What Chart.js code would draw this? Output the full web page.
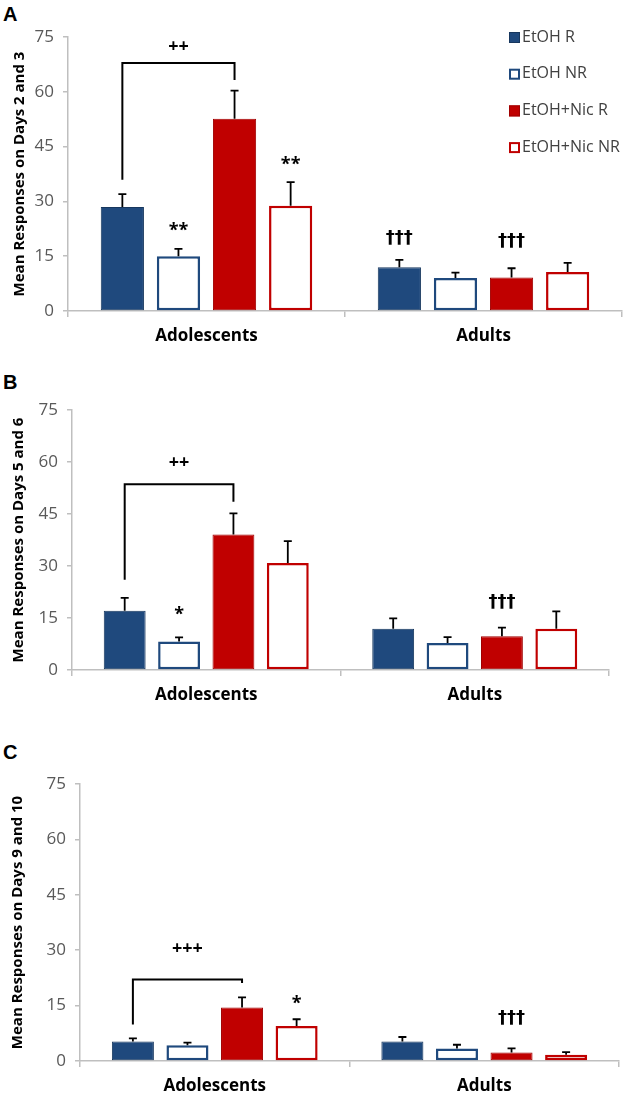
<!DOCTYPE html>
<html>
<head>
<meta charset="utf-8">
<script src="https://cdn.jsdelivr.net/npm/chart.js@4/dist/chart.umd.min.js"></script>
<style>
  body { margin: 0; background: #fff; }
  #wrap { position: relative; width: 630px; height: 1097px; overflow: hidden; }
  canvas { position: absolute; left: 0; }
  .letter { position: absolute; left: 3px; font: bold 20px 'Liberation Sans', Arial, sans-serif; color: #000; }
</style>
</head>
<body>
<div id="wrap">
  <div class="letter" style="top:3px">A</div>
  <canvas id="chartA" width="630" height="350" style="top:0"></canvas>
  <div class="letter" style="top:371px">B</div>
  <canvas id="chartB" width="630" height="354" style="top:355px"></canvas>
  <div class="letter" style="top:741px">C</div>
  <canvas id="chartC" width="630" height="387" style="top:710px"></canvas>
</div>
<script>
// categories and series
const groups = ['Adolescents', 'Adults'];
const seriesNames = ['EtOH R', 'EtOH NR', 'EtOH+Nic R', 'EtOH+Nic NR'];
const yTicks = [0, 15, 30, 45, 60, 75];

// means per series: [Adolescents, Adults]
const meanA = [[28.5, 12.0], [15.0, 9.0], [52.6, 9.2], [28.8, 10.7]];
const semA  = [[3.5, 2.0], [2.0, 1.5], [7.7, 2.5], [6.5, 2.5]];
const meanB = [[17.1, 11.9], [8.2, 7.8], [39.1, 9.7], [30.9, 11.9]];
const semB  = [[3.7, 3.0], [1.2, 1.7], [6.1, 2.5], [6.3, 5.0]];
const meanC = [[5.3, 5.3], [4.25, 3.4], [14.5, 2.3], [9.5, 1.7]];
const semC  = [[0.8, 1.2], [0.75, 1.0], [2.7, 1.1], [1.8, 0.7]];

// significance marks: [text, series, group, level]
const marksA = [['**', 1, 0, 22.0], ['**', 3, 0, 40.0], ['†††', 0, 1, 20.0], ['†††', 2, 1, 19.0]];
const marksB = [['*', 1, 0, 16.0], ['†††', 2, 1, 19.6]];
const marksC = [['*', 3, 0, 15.5], ['†††', 2, 1, 11.6]];

// brackets: [text, left series, right series, group, left foot, top, right foot, text level]
const bracketA = ['++', 0, 2, 0, 35.9, 67.9, 63.2, 72.3];
const bracketB = ['++', 0, 2, 0, 26.0, 53.6, 48.5, 59.7];
const bracketC = ['+++', 0, 2, 0, 9.9, 22.1, 21.1, 30.3];

const titles = ['Mean Responses on Days 2 and 3', 'Mean Responses on Days 5 and 6', 'Mean Responses on Days 9 and 10'];

const fills   = ['#1f497d', '#ffffff', '#c00000', '#ffffff'];
const borders = ['#17375e', '#1f497d', '#a00000', '#c00000'];
const borderW = [1, 2.5, 1, 2.5];

const decor = {
  id: 'decor',
  afterDatasetsDraw(chart, args, opts) {
    const ctx = chart.ctx;
    const y = chart.scales.y;
    const barX = (s, g) => chart.getDatasetMeta(s).data[g].x;
    ctx.save();
    // error bars
    ctx.strokeStyle = '#000';
    ctx.lineWidth = 1.8;
    chart.data.datasets.forEach((ds, s) => {
      ds.data.forEach((v, g) => {
        const x = barX(s, g);
        const top = y.getPixelForValue(v + ds.sem[g]);
        ctx.beginPath();
        ctx.moveTo(x, y.getPixelForValue(v));
        ctx.lineTo(x, top);
        ctx.moveTo(x - 4, top);
        ctx.lineTo(x + 4, top);
        ctx.stroke();
      });
    });
    // bracket
    const b = opts.bracket;
    const xl = barX(b[1], b[3]), xr = barX(b[2], b[3]);
    ctx.lineWidth = 2;
    ctx.beginPath();
    ctx.moveTo(xl, y.getPixelForValue(b[4]));
    ctx.lineTo(xl, y.getPixelForValue(b[5]));
    ctx.lineTo(xr, y.getPixelForValue(b[5]));
    ctx.lineTo(xr, y.getPixelForValue(b[6]));
    ctx.stroke();
    ctx.fillStyle = '#000';
    ctx.textAlign = 'center';
    ctx.textBaseline = 'middle';
    ctx.font = "bold 18px 'Open Sans'";
    ctx.fillText(b[0], (xl + xr) / 2, y.getPixelForValue(b[7]));
    // marks
    opts.marks.forEach(m => {
      ctx.font = m[0].startsWith('†') ? "bold 18px 'DejaVu Sans'" : "bold 18px 'Open Sans'";
      ctx.fillText(m[0], barX(m[1], m[2]), y.getPixelForValue(m[3]));
    });
    // legend
    if (opts.legend) {
      ctx.font = "16px 'Open Sans'";
      ctx.textAlign = 'left';
      chart.data.datasets.forEach((ds, i) => {
        const ly = 37 + i * 36.7;
        ctx.fillStyle = ds.backgroundColor;
        ctx.fillRect(509, ly - 5, 11, 11);
        ctx.strokeStyle = ds.borderColor;
        ctx.lineWidth = ds.borderWidth > 1 ? 2 : 1;
        ctx.strokeRect(509 + ctx.lineWidth / 2, ly - 5 + ctx.lineWidth / 2, 11 - ctx.lineWidth, 11 - ctx.lineWidth);
        ctx.fillStyle = '#404040';
        ctx.fillText(ds.label, 522, ly);
      });
    }
    ctx.restore();
  }
};

function makePanel(id, means, sems, marks, bracket, title, geo) {
  const datasets = seriesNames.map((name, s) => ({
    label: name,
    data: means[s],
    sem: sems[s],
    backgroundColor: fills[s],
    borderColor: borders[s],
    borderWidth: borderW[s],
    borderSkipped: false,
    categoryPercentage: 0.81,
    barPercentage: 0.77
  }));
  return new Chart(document.getElementById(id), {
    type: 'bar',
    data: { labels: groups, datasets: datasets },
    options: {
      responsive: false,
      animation: false,
      layout: { padding: { left: 0, top: geo.top, right: 630 - geo.right, bottom: 0 } },
      plugins: {
        legend: { display: false },
        tooltip: { enabled: false },
        decor: { marks: marks, bracket: bracket, legend: geo.legend }
      },
      scales: {
        x: {
          afterFit: (scale) => { scale.height = geo.xh; },
          border: { color: '#bfbfbf', width: 1.5 },
          grid: { offset: true, drawOnChartArea: false, tickLength: 6, color: '#bfbfbf', lineWidth: 1.5 },
          ticks: { padding: 9, color: '#000', font: { family: 'Open Sans', size: 17, weight: 'bold' } }
        },
        y: {
          min: 0,
          max: 75,
          afterFit: (scale) => { scale.width = geo.left; },
          afterBuildTicks: (scale) => { scale.ticks = yTicks.map(v => ({ value: v })); },
          border: { color: '#bfbfbf', width: 1.5 },
          grid: { drawOnChartArea: false, tickLength: 5, color: '#bfbfbf', lineWidth: 1.5 },
          ticks: { padding: 9, color: '#595959', font: { family: 'Open Sans', size: 17 } },
          title: {
            display: true,
            text: title,
            color: '#000',
            padding: { top: geo.tp, bottom: 0 },
            font: { family: 'Open Sans', size: 15, weight: 'bold' }
          }
        }
      }
    },
    plugins: [decor]
  });
}

makePanel('chartA', meanA, semA, marksA, bracketA, titles[0], { left: 68, right: 622, top: 37, xh: 39, tp: 11, legend: true });
makePanel('chartB', meanB, semB, marksB, bracketB, titles[1], { left: 72, right: 609, top: 55, xh: 39, tp: 10, legend: false });
makePanel('chartC', meanC, semC, marksC, bracketC, titles[2], { left: 80, right: 619, top: 74, xh: 36, tp: 9, legend: false });
</script>
</body>
</html>
